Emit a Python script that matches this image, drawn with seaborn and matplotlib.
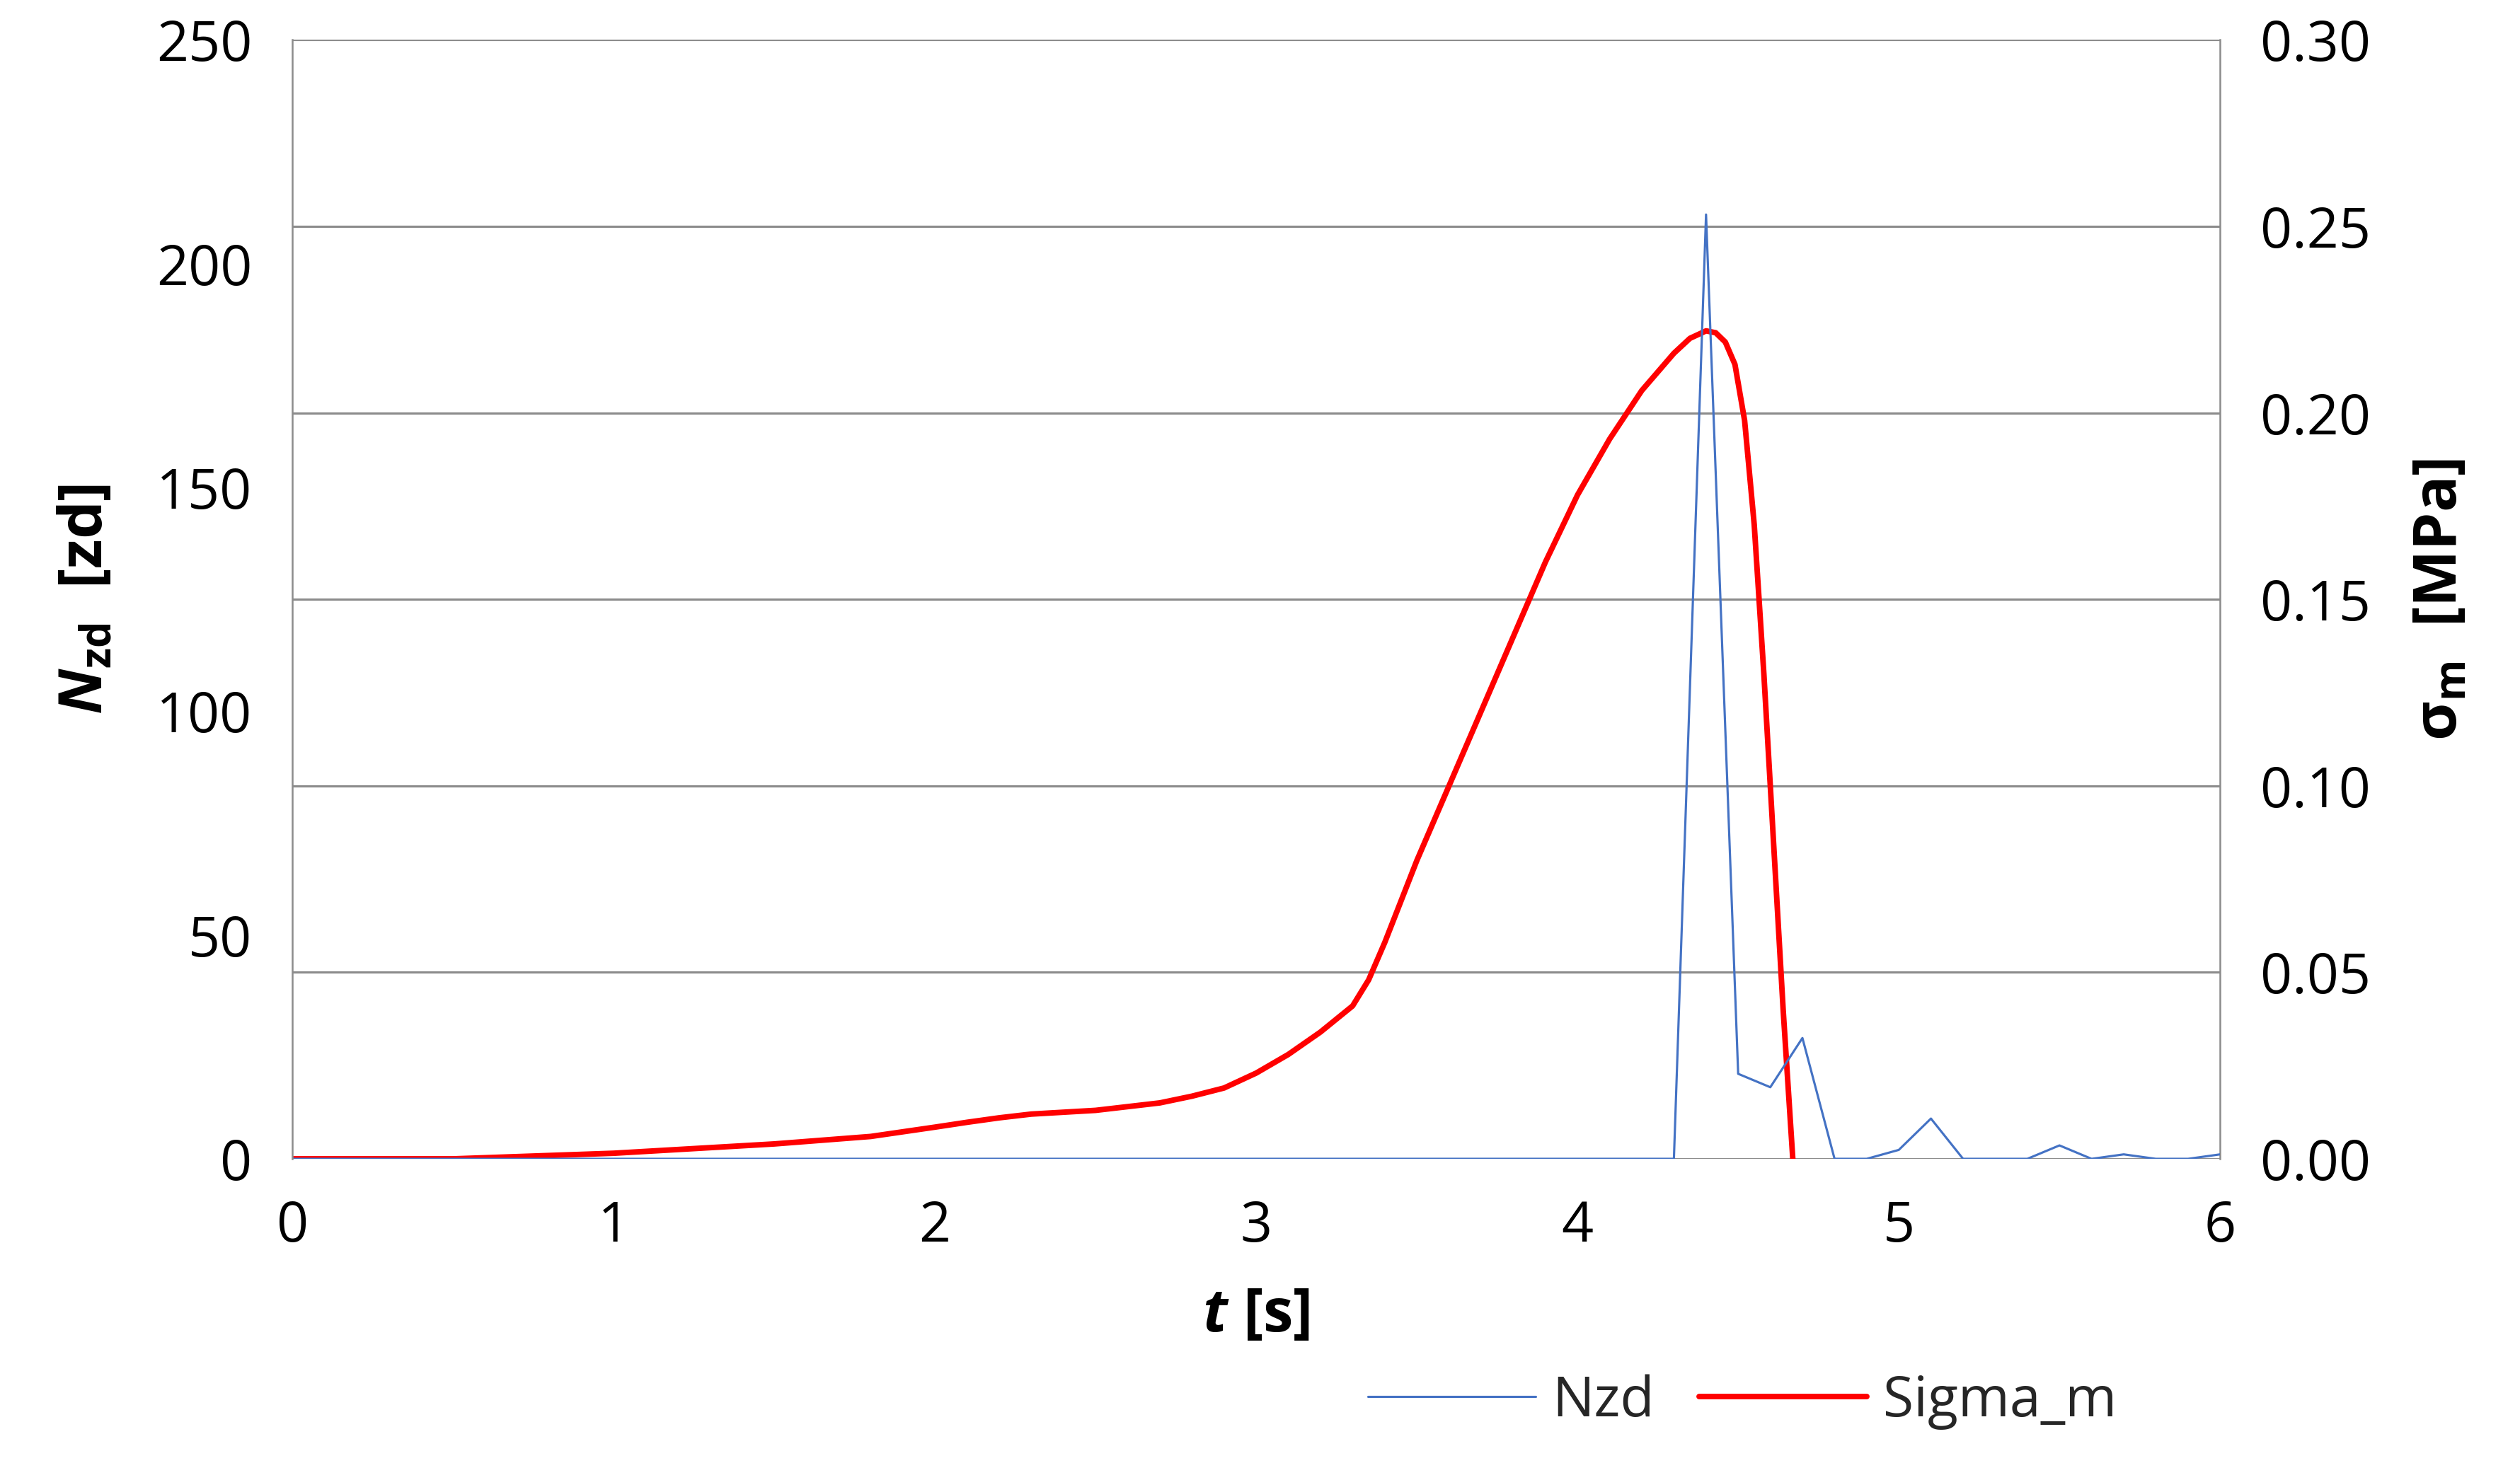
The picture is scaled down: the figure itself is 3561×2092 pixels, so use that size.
import numpy as np
import pandas as pd
import seaborn as sns
import matplotlib.pyplot as plt

sns.set_style("white")
plt.rcParams['font.family'] = ['Open Sans', 'DejaVu Sans']
plt.rcParams['mathtext.fontset'] = 'custom'
plt.rcParams['mathtext.it'] = 'Open Sans:italic'
plt.rcParams['mathtext.bf'] = 'Open Sans:bold'
plt.rcParams['mathtext.bfit'] = 'Open Sans:bold:italic'

# Nzd series, every 0.1 s
t_nzd = [round(0.1 * i, 1) for i in range(61)]
nzd = [0] * 44 + [211, 19, 16, 27, 0, 0, 2, 9, 0, 0, 0, 3, 0, 1, 0, 0, 1]

# Sigma_m series [MPa]
t_sig = [0, 0.5, 1.0, 1.5, 1.8, 2.0, 2.1, 2.2, 2.3, 2.5, 2.7, 2.8, 2.9, 3.0, 3.1, 3.2, 3.3,
         3.35, 3.4, 3.5, 3.6, 3.7, 3.8, 3.9, 4.0, 4.1, 4.2, 4.3, 4.35, 4.4, 4.43, 4.46,
         4.49, 4.52, 4.55, 4.58, 4.61, 4.64, 4.67]
sigma = [0, 0, 0.0015, 0.004, 0.006, 0.0085, 0.0098, 0.011, 0.012, 0.013, 0.015, 0.0168,
         0.019, 0.023, 0.028, 0.034, 0.041, 0.048, 0.058, 0.080, 0.100, 0.120, 0.140,
         0.160, 0.178, 0.193, 0.206, 0.216, 0.220, 0.222, 0.2215, 0.219, 0.213, 0.198,
         0.170, 0.130, 0.085, 0.040, 0.0]

df_n = pd.DataFrame({'t': t_nzd, 'Nzd': nzd})
df_s = pd.DataFrame({'t': t_sig, 'Sigma_m': sigma})

fig = plt.figure(figsize=(3561 / 227, 2092 / 227), dpi=227)
ax = fig.add_axes([0.116, 0.217, 0.765, 0.756])
ax2 = ax.twinx()

sns.lineplot(data=df_n, x='t', y='Nzd', ax=ax, color='#4472C4', linewidth=1.0, label='Nzd', legend=False)
sns.lineplot(data=df_s, x='t', y='Sigma_m', ax=ax2, color='#FF0000', linewidth=2.5, label='Sigma_m', legend=False)

ax.set_xlim(0, 6)
ax.set_ylim(0, 250)
ax2.set_ylim(0, 0.30)
ax.set_xticks(range(7))
ax.set_yticks(range(0, 251, 50))
ax2.set_yticks(np.arange(0, 0.301, 0.05))
ax2.set_yticklabels([f'{v:.2f}' for v in np.arange(0, 0.301, 0.05)])
ax2.grid(True, axis='y', color='#8c8c8c', linewidth=1.0)
ax.grid(False)
ax.set_zorder(ax2.get_zorder() + 1)
ax.patch.set_visible(False)

for a in (ax, ax2):
    for s in a.spines.values():
        s.set_visible(False)
ax.spines['left'].set_visible(True)
ax.spines['left'].set_color('#8c8c8c')
ax2.spines['right'].set_visible(True)
ax2.spines['right'].set_color('#8c8c8c')

ax.tick_params(labelsize=25, length=0, pad=18, labelcolor='black')
ax2.tick_params(labelsize=25, length=0, pad=18, labelcolor='black')

ax.set_xlabel(r'$\mathbfit{t}$ $\mathbf{[s]}$', fontsize=27, labelpad=14, color='black')
ax.set_ylabel(r'$\mathbfit{N}_{\mathbf{zd}}$  $\mathbf{[zd]}$', fontsize=27, labelpad=18, color='black')
ax2.set_ylabel(r'$\mathbf{\sigma_m}$  $\mathbf{[MPa]}$', fontsize=27, labelpad=18, color='black')

h1, l1 = ax.get_legend_handles_labels()
h2, l2 = ax2.get_legend_handles_labels()
fig.legend(h1 + h2, l1 + l2, loc='lower right', bbox_to_anchor=(0.86, 0.0), ncol=2,
           frameon=False, fontsize=25, handlelength=3, columnspacing=0.8, handletextpad=0.3)

fig.savefig('out.png', dpi=227)
